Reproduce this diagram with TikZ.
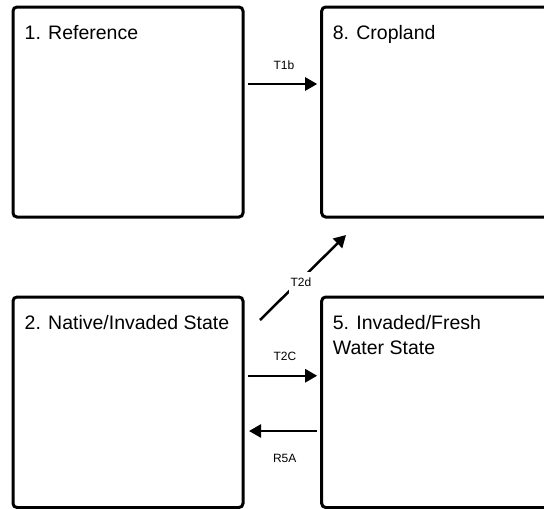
\documentclass[tikz,border=0pt]{standalone}
\usepackage{fontspec}
\setmainfont{Liberation Sans}
\usetikzlibrary{arrows.meta}
\begin{document}
\begin{tikzpicture}[x=1pt,y=-1pt,
  statebox/.style={draw=black, line width=3pt, rounded corners=4pt,
    minimum width=230pt, minimum height=210pt, inner sep=0pt, fill=white},
  title/.style={anchor=base west, inner sep=0pt, align=left,
    font=\fontsize{19.5}{25.7}\selectfont},
  arr/.style={line width=2.5pt, -{Triangle[length=12pt,width=13pt]}},
  tlabel/.style={anchor=base, inner sep=0pt, font=\fontsize{12}{14}\selectfont}]
\useasboundingbox (0,0) rectangle (544,509);

% state boxes
\node[statebox] (b1) at (128,112) {};
\node[statebox] (b8) at (436.7,112) {};
\node[statebox, minimum height=210.5pt] (b2) at (128,402.25) {};
\node[statebox, minimum height=210.5pt] (b5) at (436.7,402.25) {};

% state titles (a multi-line title is placed by the baseline of its last line)
\node[title] (t1) at (24.5,39.3) {1. Reference};
\node[title] (t8) at (332.7,39.3) {8. Cropland};
\node[title] (t2) at (24.5,329) {2. Native/Invaded State};
\node[title] (t5) at (332.7,354.7) {5. Invaded/Fresh\\Water State};

% transitions
\draw[arr, shorten <=3.5pt, shorten >=3pt]
  ([yshift=28pt]b1.east) -- ([yshift=28pt]b8.west);
\node[tlabel] (l1b) at (284,69.7) {T1b};

\draw[arr, shorten <=3.5pt, shorten >=3pt]
  ([yshift=26.5pt]b2.east) -- ([yshift=26.5pt]b5.west);
\node[tlabel] (l2c) at (285,360) {T2C};

\draw[arr, shorten <=3.2pt, shorten >=4.5pt]
  ([yshift=-28.75pt]b5.west) -- ([yshift=-28.75pt]b2.east);
\node[tlabel] (l5a) at (284.7,462.5) {R5A};

\coordinate (d0) at ([xshift=15.5pt,yshift=-24.5pt]b2.north east);
\coordinate (d1) at ([xshift=25.8pt,yshift=-16.5pt]b8.south west);
\draw[arr] (d0) -- (d1);
\node[tlabel, fill=white, inner xsep=2pt, inner ysep=6.5pt] (l2d) at (301,286.7) {T2d};
\end{tikzpicture}
\end{document}
